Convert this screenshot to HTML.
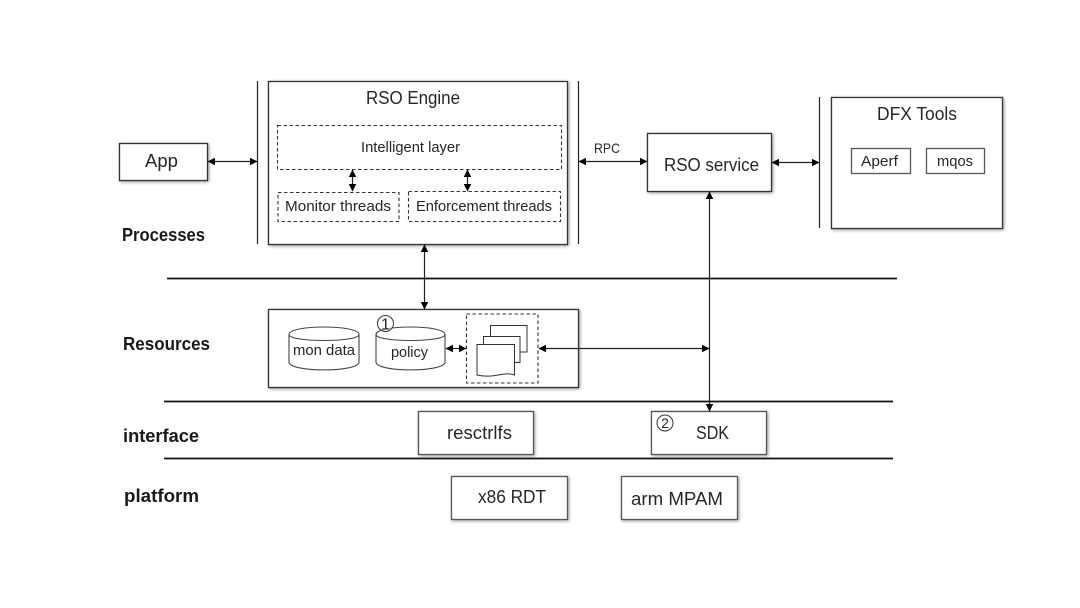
<!DOCTYPE html>
<html><head><meta charset="utf-8"><style>
html,body{margin:0;padding:0;background:#fff}
svg{display:block;filter:blur(.35px)}
text{font-family:"Liberation Sans","DejaVu Sans",sans-serif;fill:#262626}
.b{fill:#fff;stroke:#333;stroke-width:1.3}
.s{fill:#fff;stroke:#555;stroke-width:1.3}
.d{fill:#fff;stroke:#333;stroke-width:1.1;stroke-dasharray:3.500 2.500}
.l{stroke:#222;stroke-width:1.2;fill:none}
.h{stroke:#111;stroke-width:1.7;fill:none}
.a{fill:#000}
.t{font-weight:bold;fill:#1a1a1a;font-size:18px}
</style></head><body>
<svg width="1080" height="608" viewBox="0 0 1080 608" xmlns="http://www.w3.org/2000/svg">
<defs>
<filter id="sh" x="-5%" y="-5%" width="110%" height="110%"><feDropShadow dx="1" dy="1" stdDeviation="1.500" flood-color="#000" flood-opacity=".4"/></filter>
<marker id="m" viewBox="0 0 8 8" refX="7.500" refY="4" markerWidth="7.500" markerHeight="7.500" markerUnits="userSpaceOnUse" orient="auto-start-reverse"><path d="M0 0L8 4L0 8Z" class="a"/></marker>
</defs>
<rect width="1080" height="608" fill="#fff"/>

<!-- separators -->
<path class="h" d="M167 278.500H897M164 401.500H893M164 458.500H893"/>
<path class="l" d="M257.500 81V244M578.500 81V244M819.500 97V228"/>

<!-- boxes -->
<g filter="url(#sh)">
<rect class="b" x="119.500" y="143.500" width="88" height="37"/>
<rect class="b" x="268.500" y="81.500" width="299" height="163"/>
<rect class="b" x="647.500" y="133.500" width="124" height="58"/>
<rect class="b" x="831.500" y="97.500" width="171" height="131"/>
<rect class="b" x="268.500" y="309.500" width="310" height="78"/>
<rect class="s" x="418.500" y="411.500" width="115" height="43"/>
<rect class="s" x="651.500" y="411.500" width="115" height="43"/>
<rect class="s" x="451.500" y="476.500" width="116" height="43"/>
<rect class="s" x="621.500" y="476.500" width="116" height="43"/>
</g>
<rect class="s" x="851.500" y="148.500" width="59" height="25"/>
<rect class="s" x="926.500" y="148.500" width="58" height="25"/>
<rect class="d" x="277.500" y="125.500" width="284" height="44"/>
<rect class="d" x="278" y="192.500" width="121" height="29"/>
<rect class="d" x="408.500" y="191.500" width="152" height="30"/>

<!-- cylinders -->
<g fill="#fff" stroke="#444" stroke-width="1.100">
<path d="M289 334.500C289 324.500 359 324.500 359 334.500V362C359 372.500 289 372.500 289 362Z"/>
<path d="M289 334.500C289 342.500 359 342.500 359 334.500" fill="none"/>
<path d="M376 334.500C376 324.500 445 324.500 445 334.500V362C445 372.500 376 372.500 376 362Z"/>
<path d="M376 334.500C376 342.500 445 342.500 445 334.500" fill="none"/>
</g>

<!-- stacked documents -->
<rect class="d" x="466.500" y="314" width="71.500" height="69"/>
<g fill="#fff" stroke="#333" stroke-width="1">
<rect x="490.500" y="325.500" width="36.500" height="26.500"/>
<rect x="483.500" y="336.500" width="36.500" height="26"/>
<path d="M477 344.500H514.500V375C503 371 495 379 477 375Z"/>
</g>

<!-- connectors -->
<g class="l">
<path class="l" marker-start="url(#m)" marker-end="url(#m)" d="M208 161.500H257"/>
<path class="l" marker-start="url(#m)" marker-end="url(#m)" d="M579 161.500H647"/>
<path class="l" marker-start="url(#m)" marker-end="url(#m)" d="M772 162.500H819"/>
<path class="l" marker-start="url(#m)" marker-end="url(#m)" d="M352.500 170V191"/>
<path class="l" marker-start="url(#m)" marker-end="url(#m)" d="M467.500 170V191"/>
<path class="l" marker-start="url(#m)" marker-end="url(#m)" d="M424.500 245V309"/>
<path class="l" marker-start="url(#m)" marker-end="url(#m)" d="M709.500 192V411"/>
<path class="l" marker-start="url(#m)" marker-end="url(#m)" d="M446 348.500H466"/>
<path class="l" marker-start="url(#m)" marker-end="url(#m)" d="M539 348.500H709"/>
</g>

<!-- text -->
<text x="145" y="167" font-size="18" textLength="33" lengthAdjust="spacingAndGlyphs">App</text>
<text x="366" y="104" font-size="18" textLength="94" lengthAdjust="spacingAndGlyphs">RSO Engine</text>
<text x="361" y="152" font-size="14.500" textLength="99" lengthAdjust="spacingAndGlyphs">Intelligent layer</text>
<text x="285" y="211" font-size="14.500" textLength="106" lengthAdjust="spacingAndGlyphs">Monitor threads</text>
<text x="416" y="211" font-size="14.500" textLength="136" lengthAdjust="spacingAndGlyphs">Enforcement threads</text>
<text x="594" y="153" font-size="14" textLength="26" lengthAdjust="spacingAndGlyphs">RPC</text>
<text x="664" y="171" font-size="18" textLength="95" lengthAdjust="spacingAndGlyphs">RSO service</text>
<text x="877" y="120" font-size="18" textLength="80" lengthAdjust="spacingAndGlyphs">DFX Tools</text>
<text x="861" y="166" font-size="14.500" textLength="37" lengthAdjust="spacingAndGlyphs">Aperf</text>
<text x="937" y="166" font-size="14.500" textLength="36" lengthAdjust="spacingAndGlyphs">mqos</text>
<text x="293" y="355" font-size="14.500" textLength="62" lengthAdjust="spacingAndGlyphs">mon data</text>
<text x="391" y="357" font-size="14.500" textLength="37" lengthAdjust="spacingAndGlyphs">policy</text>
<text x="447" y="439" font-size="18" textLength="65" lengthAdjust="spacingAndGlyphs">resctrlfs</text>
<text x="696" y="439" font-size="18" textLength="33" lengthAdjust="spacingAndGlyphs">SDK</text>
<text x="478" y="503" font-size="18" textLength="68" lengthAdjust="spacingAndGlyphs">x86 RDT</text>
<text x="631" y="505" font-size="18" textLength="92" lengthAdjust="spacingAndGlyphs">arm MPAM</text>
<text class="t" x="122" y="241" textLength="83" lengthAdjust="spacingAndGlyphs">Processes</text>
<text class="t" x="123" y="350" textLength="87" lengthAdjust="spacingAndGlyphs">Resources</text>
<text class="t" x="123" y="442" textLength="76" lengthAdjust="spacingAndGlyphs">interface</text>
<text class="t" x="124" y="502" textLength="75" lengthAdjust="spacingAndGlyphs">platform</text>

<!-- circled numbers -->
<circle cx="385.500" cy="323.500" r="8" fill="#fff" fill-opacity=".6" stroke="#333" stroke-width="1"/>
<text x="385.500" y="329.500" font-size="16" text-anchor="middle">1</text>
<circle cx="665" cy="423" r="8" fill="#fff" stroke="#333" stroke-width="1"/>
<text x="665" y="428" font-size="14" text-anchor="middle">2</text>
</svg>
</body></html>
